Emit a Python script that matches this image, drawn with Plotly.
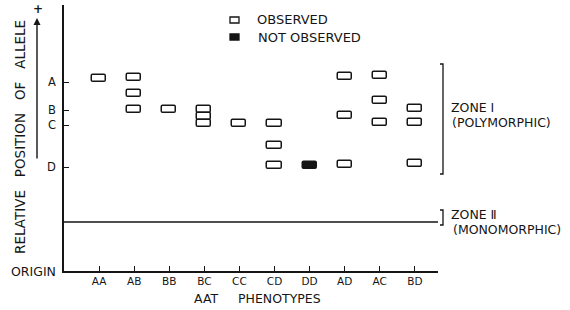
import plotly.graph_objects as go

# ---------------- data ----------------
phenotypes = ["AA", "AB", "BB", "BC", "CC", "CD", "DD", "AD", "AC", "BD"]
allele_labels = ["A", "B", "C", "D"]
allele_positions = [18.9, 16.1, 14.6, 10.4]

obs_pheno = ["AA", "AB", "AB", "AB", "BB", "BC", "BC", "BC", "CC",
             "CD", "CD", "CD", "AD", "AD", "AD", "AC", "AC", "AC",
             "BD", "BD", "BD"]
obs_pos = [19.3, 19.4, 17.8, 16.2, 16.2, 16.2, 15.5, 14.8, 14.8,
           14.8, 12.6, 10.6, 19.5, 15.6, 10.7, 19.6, 17.1, 14.9,
           16.3, 14.9, 10.8]

notobs_pheno = ["DD"]
notobs_pos = [10.6]

zone2_level = 4.9
zone1_span = [9.7, 20.7]
zone2_span = [4.6, 6.1]
axis_top = 26.6

# ---------------- layout geometry ----------------
W, H = 570, 310
ML, MR, MT, MB = 64, 132, 5, 39
PW, PH = W - ML - MR, H - MT - MB

def xp(px):
    return (px - ML) / PW

def yp(py):
    return (H - MB - py) / PH

band_h = 0.7
band_w = 0.4
ink = "#151515"
FONT = "DejaVu Sans"

fig = go.Figure()

fig.add_trace(go.Bar(
    x=obs_pheno, y=[band_h] * len(obs_pos),
    base=[p - band_h / 2 for p in obs_pos],
    width=band_w, name="OBSERVED",
    marker=dict(color="white", line=dict(color=ink, width=1.5), cornerradius=2),
    showlegend=False,
))
fig.add_trace(go.Bar(
    x=notobs_pheno, y=[band_h] * len(notobs_pos),
    base=[p - band_h / 2 for p in notobs_pos],
    width=band_w, name="NOT OBSERVED",
    marker=dict(color=ink, line=dict(color=ink, width=1.5), cornerradius=2),
    showlegend=False,
))

shapes = []
# Zone II line
shapes.append(dict(type="line", xref="paper", yref="y", x0=0, x1=1,
                   y0=zone2_level, y1=zone2_level, line=dict(color=ink, width=1.3)))
# Zone brackets
bx = xp(443)
hk = 3 / PW
for lo, hi in (zone1_span, zone2_span):
    shapes.append(dict(type="path", xref="paper", yref="y",
                       path=f"M {bx-hk},{hi} L {bx},{hi} L {bx},{lo} L {bx-hk},{lo}",
                       line=dict(color=ink, width=1.3)))
# legend swatches
shapes.append(dict(type="rect", xref="paper", yref="paper",
                   x0=xp(230), x1=xp(239), y0=yp(23), y1=yp(17),
                   line=dict(color=ink, width=1.3), fillcolor="white"))
shapes.append(dict(type="rect", xref="paper", yref="paper",
                   x0=xp(230), x1=xp(239), y0=yp(40), y1=yp(34),
                   line=dict(color=ink, width=1.3), fillcolor=ink))

nb = "\u00a0"
ann = []
def label(text, px, py, size, anchor="left"):
    ann.append(dict(text=text, x=xp(px), y=yp(py), xref="paper", yref="paper",
                    xanchor=anchor, yanchor="middle", showarrow=False,
                    font=dict(size=size)))

label("OBSERVED", 255, 20, 13)
label("NOT OBSERVED", 256, 37, 13)
label("ZONE Ⅰ", 449, 108, 12.5)
label("(POLYMORPHIC)", 450, 122, 12.5)
label("ZONE Ⅱ", 449, 214, 12.5)
label("(MONOMORPHIC)", 451, 229, 12.5)
label(f"AAT{nb*5}PHENOTYPES", 257, 299, 12.5, anchor="center")
ann.append(dict(text="ORIGIN", x=xp(58), y=0, xref="paper", yref="y",
                xanchor="right", yanchor="middle", showarrow=False, font=dict(size=12.5)))
ytitle = f"RELATIVE{nb*3}POSITION{nb*3}OF{nb*3}ALLELE"
ann.append(dict(text=ytitle, x=xp(20), y=yp(137), xref="paper", yref="paper",
                xanchor="center", yanchor="middle", textangle=-90, showarrow=False,
                font=dict(size=13.5)))
# arrow
ann.append(dict(text="", x=xp(37), y=(H - MB - 18) / 10, xref="paper", yref="y",
                ax=0, ay=(H - MB - 160) / 10, axref="pixel", ayref="y",
                showarrow=True, arrowhead=2, arrowsize=1, arrowwidth=1.4, arrowcolor=ink))
label("<b>+</b>", 38, 9, 12, anchor="center")

fig.update_layout(
    width=W, height=H, margin=dict(l=ML, r=MR, t=MT, b=MB),
    paper_bgcolor="white", plot_bgcolor="white",
    barmode="overlay", bargap=0,
    font=dict(family=FONT, color=ink, size=11),
    shapes=shapes, annotations=ann,
    xaxis=dict(type="category", categoryorder="array", categoryarray=phenotypes,
               range=[-1, 9.66], showgrid=False, zeroline=False,
               showline=True, linecolor=ink, linewidth=1.5,
               ticks="inside", ticklen=5, tickwidth=1.2, tickcolor=ink,
               tickfont=dict(size=10.5), fixedrange=True),
    yaxis=dict(range=[0, axis_top], showgrid=False, zeroline=False,
               showline=True, linecolor=ink, linewidth=1.5,
               tickvals=allele_positions, ticktext=allele_labels,
               ticks="inside", ticklen=5, tickwidth=1.2, tickcolor=ink,
               ticklabelstandoff=4,
               tickfont=dict(size=11.5), fixedrange=True),
)

fig.write_html("out.html", config={"displayModeBar": False},
               post_script="document.body.style.margin='0';document.body.style.overflow='hidden';")
